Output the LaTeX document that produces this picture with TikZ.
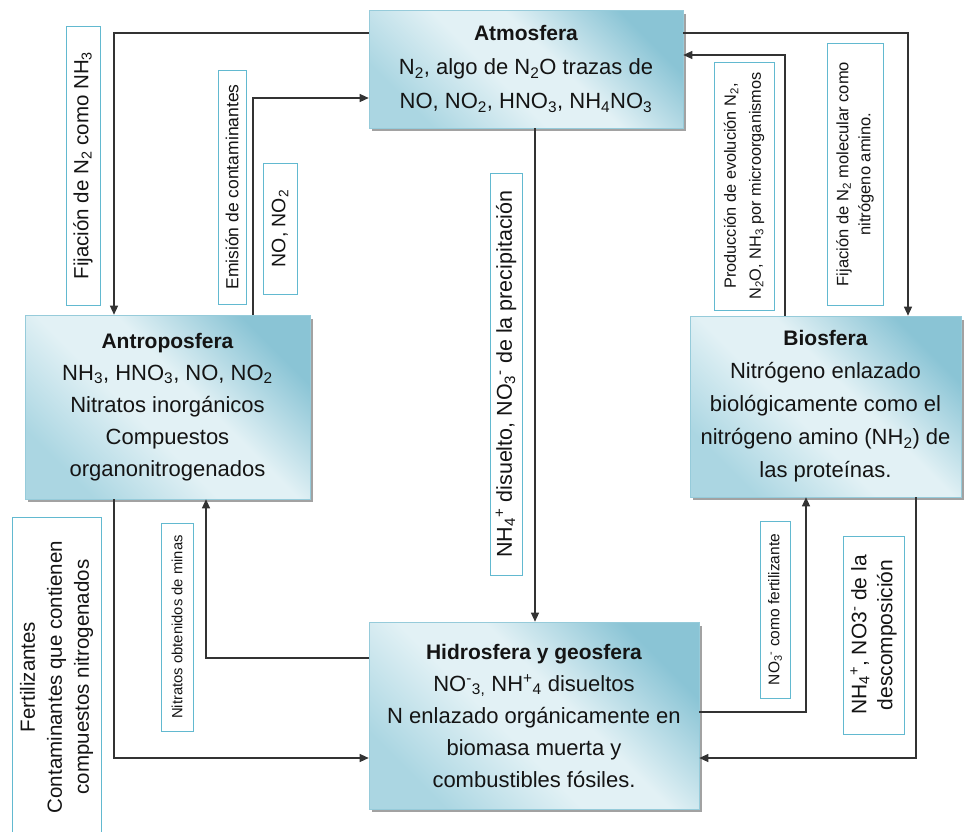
\documentclass[tikz,border=0pt]{standalone}
\usepackage{fontspec}
\setmainfont{Liberation Sans}
\usetikzlibrary{arrows.meta,backgrounds}

\definecolor{boxdark}{HTML}{8AC4D5}
\definecolor{boxmid}{HTML}{ABD6E2}
\definecolor{boxlight}{HTML}{E2F1F5}
\definecolor{boxedge}{HTML}{96CBDA}
\definecolor{tagedge}{HTML}{62B9D0}
\definecolor{flowline}{HTML}{333333}
\definecolor{shadowgray}{HTML}{A2A2A2}
\definecolor{ink}{HTML}{141414}

\pgfdeclarehorizontalshading{sphereshade}{100bp}{color(0bp)=(boxmid); color(25bp)=(boxmid); color(44bp)=(boxlight); color(56bp)=(boxlight); color(75bp)=(boxdark); color(100bp)=(boxdark)}

\tikzset{
  sphere/.style={draw=boxedge, line width=0.6pt, shading=sphereshade, shading angle=45,
    align=center, inner sep=0pt, text=ink},
  tag/.style={draw=tagedge, line width=1pt, fill=white, rotate=90, align=center,
    inner sep=0pt, text=ink},
  flow/.style={draw=flowline, line width=1.2pt, -{Triangle[length=9pt,width=8pt]}},
}

\begin{document}
\begin{tikzpicture}[x=1pt,y=-1pt]
\useasboundingbox (0,0) rectangle (964,831);

% the four spheres
\node[sphere, minimum width=314pt, minimum height=118pt, font=\fontsize{22}{34}\selectfont] (atm) at (526,69)
  {{\bfseries\fontsize{21}{34}\selectfont Atmosfera}\\
   N\textsubscript{2}, algo de N\textsubscript{2}O trazas de\\
   NO, NO\textsubscript{2}, HNO\textsubscript{3}, NH\textsubscript{4}NO\textsubscript{3}};

\node[sphere, minimum width=285pt, minimum height=184pt, font=\fontsize{22}{32}\selectfont] (antro) at (167.5,407)
  {{\bfseries\fontsize{21}{32}\selectfont Antroposfera}\\
   NH\textsubscript{3}, HNO\textsubscript{3}, NO, NO\textsubscript{2}\\
   Nitratos inorgánicos\\ Compuestos\\ organonitrogenados};

\node[sphere, minimum width=271pt, minimum height=181pt, font=\fontsize{22}{33}\selectfont] (bio) at (825.5,406.5)
  {{\bfseries\fontsize{21}{33}\selectfont Biosfera}\\
   Nitrógeno enlazado\\ biológicamente como el\\
   nitrógeno amino (NH\textsubscript{2}) de\\ las proteínas.};

\node[sphere, minimum width=330pt, minimum height=187pt, font=\fontsize{22}{32}\selectfont] (hid) at (534,715.5)
  {{\bfseries\fontsize{21}{32}\selectfont Hidrosfera y geosfera}\\
   NO\textsuperscript{-}\textsubscript{3,} NH\textsuperscript{+}\textsubscript{4} disueltos\\
   N enlazado orgánicamente en\\ biomasa muerta y\\ combustibles fósiles.};

% drop shadows of the spheres
\begin{scope}[on background layer]
  \foreach \n in {atm,antro,bio,hid}
    \fill[shadowgray] ([shift={(3,4)}]\n.north west) rectangle ([shift={(3,3)}]\n.south east);
\end{scope}

% bend points of the flows
\coordinate (k1) at (114,33);
\coordinate (k2) at (253,98);
\coordinate (k3) at (908,33);
\coordinate (k4) at (785,55);
\coordinate (k5) at (535,0);
\coordinate (k6) at (114,758);
\coordinate (k7) at (206,658);
\coordinate (k8) at (806,712);
\coordinate (k9) at (916,758);

% flows
\draw[flow] (atm.west |- k1) -| (antro.north -| k1);
\draw[flow] (antro.north -| k2) |- (atm.west |- k2);
\draw[flow] (atm.east |- k3) -| (bio.north -| k3);
\draw[flow] (bio.north -| k4) |- (atm.east |- k4);
\draw[flow] (atm.south -| k5) -- (hid.north -| k5);
\draw[flow] (antro.south -| k6) |- (hid.west |- k6);
\draw[flow] (hid.west |- k7) -| (antro.south -| k7);
\draw[flow] (hid.east |- k8) -| (bio.south -| k8);
\draw[flow] (bio.south -| k9) |- (hid.east |- k9);

% flow labels
\node[tag, minimum width=279pt, minimum height=34pt, font=\fontsize{20.5}{24}\selectfont] (fixnh) at (83,165.5)
  {Fijación de N\textsubscript{2} como NH\textsubscript{3}};
\node[tag, minimum width=234pt, minimum height=28pt, font=\fontsize{17.5}{22}\selectfont] (emis) at (232,187)
  {Emisión de contaminantes};
\node[tag, minimum width=131pt, minimum height=34pt, font=\fontsize{19.5}{24}\selectfont] (nox) at (280,228.5)
  {NO, NO\textsubscript{2}};
\node[tag, minimum width=402pt, minimum height=32pt, font=\fontsize{21.5}{24}\selectfont] (precip) at (506,374)
  {NH\textsubscript{4}\textsuperscript{+} disuelto, NO\textsubscript{3}\textsuperscript{-} de la precipitación};
\node[tag, minimum width=248pt, minimum height=60pt, font=\fontsize{16.3}{25}\selectfont] (micro) at (744,186)
  {Producción de evolución N\textsubscript{2},\\ N\textsubscript{2}O, NH\textsubscript{3} por microorganismos};
\node[tag, minimum width=262pt, minimum height=56pt, font=\fontsize{16.5}{22}\selectfont] (fixam) at (855,174)
  {Fijación de N\textsubscript{2} molecular como\\ nitrógeno amino.};
\node[tag, minimum width=208pt, minimum height=32pt, font=\fontsize{14.8}{20}\selectfont] (minas) at (177,627)
  {Nitratos obtenidos de minas};
\node[tag, minimum width=177pt, minimum height=30pt, font=\fontsize{15.5}{20}\selectfont] (fert) at (775,609.5)
  {NO\textsubscript{3}\textsuperscript{-} como fertilizante};
\node[tag, minimum width=198pt, minimum height=61pt, font=\fontsize{21}{26}\selectfont] (desc) at (873.5,635)
  {NH\textsubscript{4}\textsuperscript{+}, NO3\textsuperscript{-} de la\\ descomposición};
\node[tag, minimum width=320pt, minimum height=89pt, font=\fontsize{20.5}{27}\selectfont] (contam) at (56.5,677)
  {Fertilizantes\\ Contaminantes que contienen\\ compuestos nitrogenados};
\end{tikzpicture}
\end{document}
